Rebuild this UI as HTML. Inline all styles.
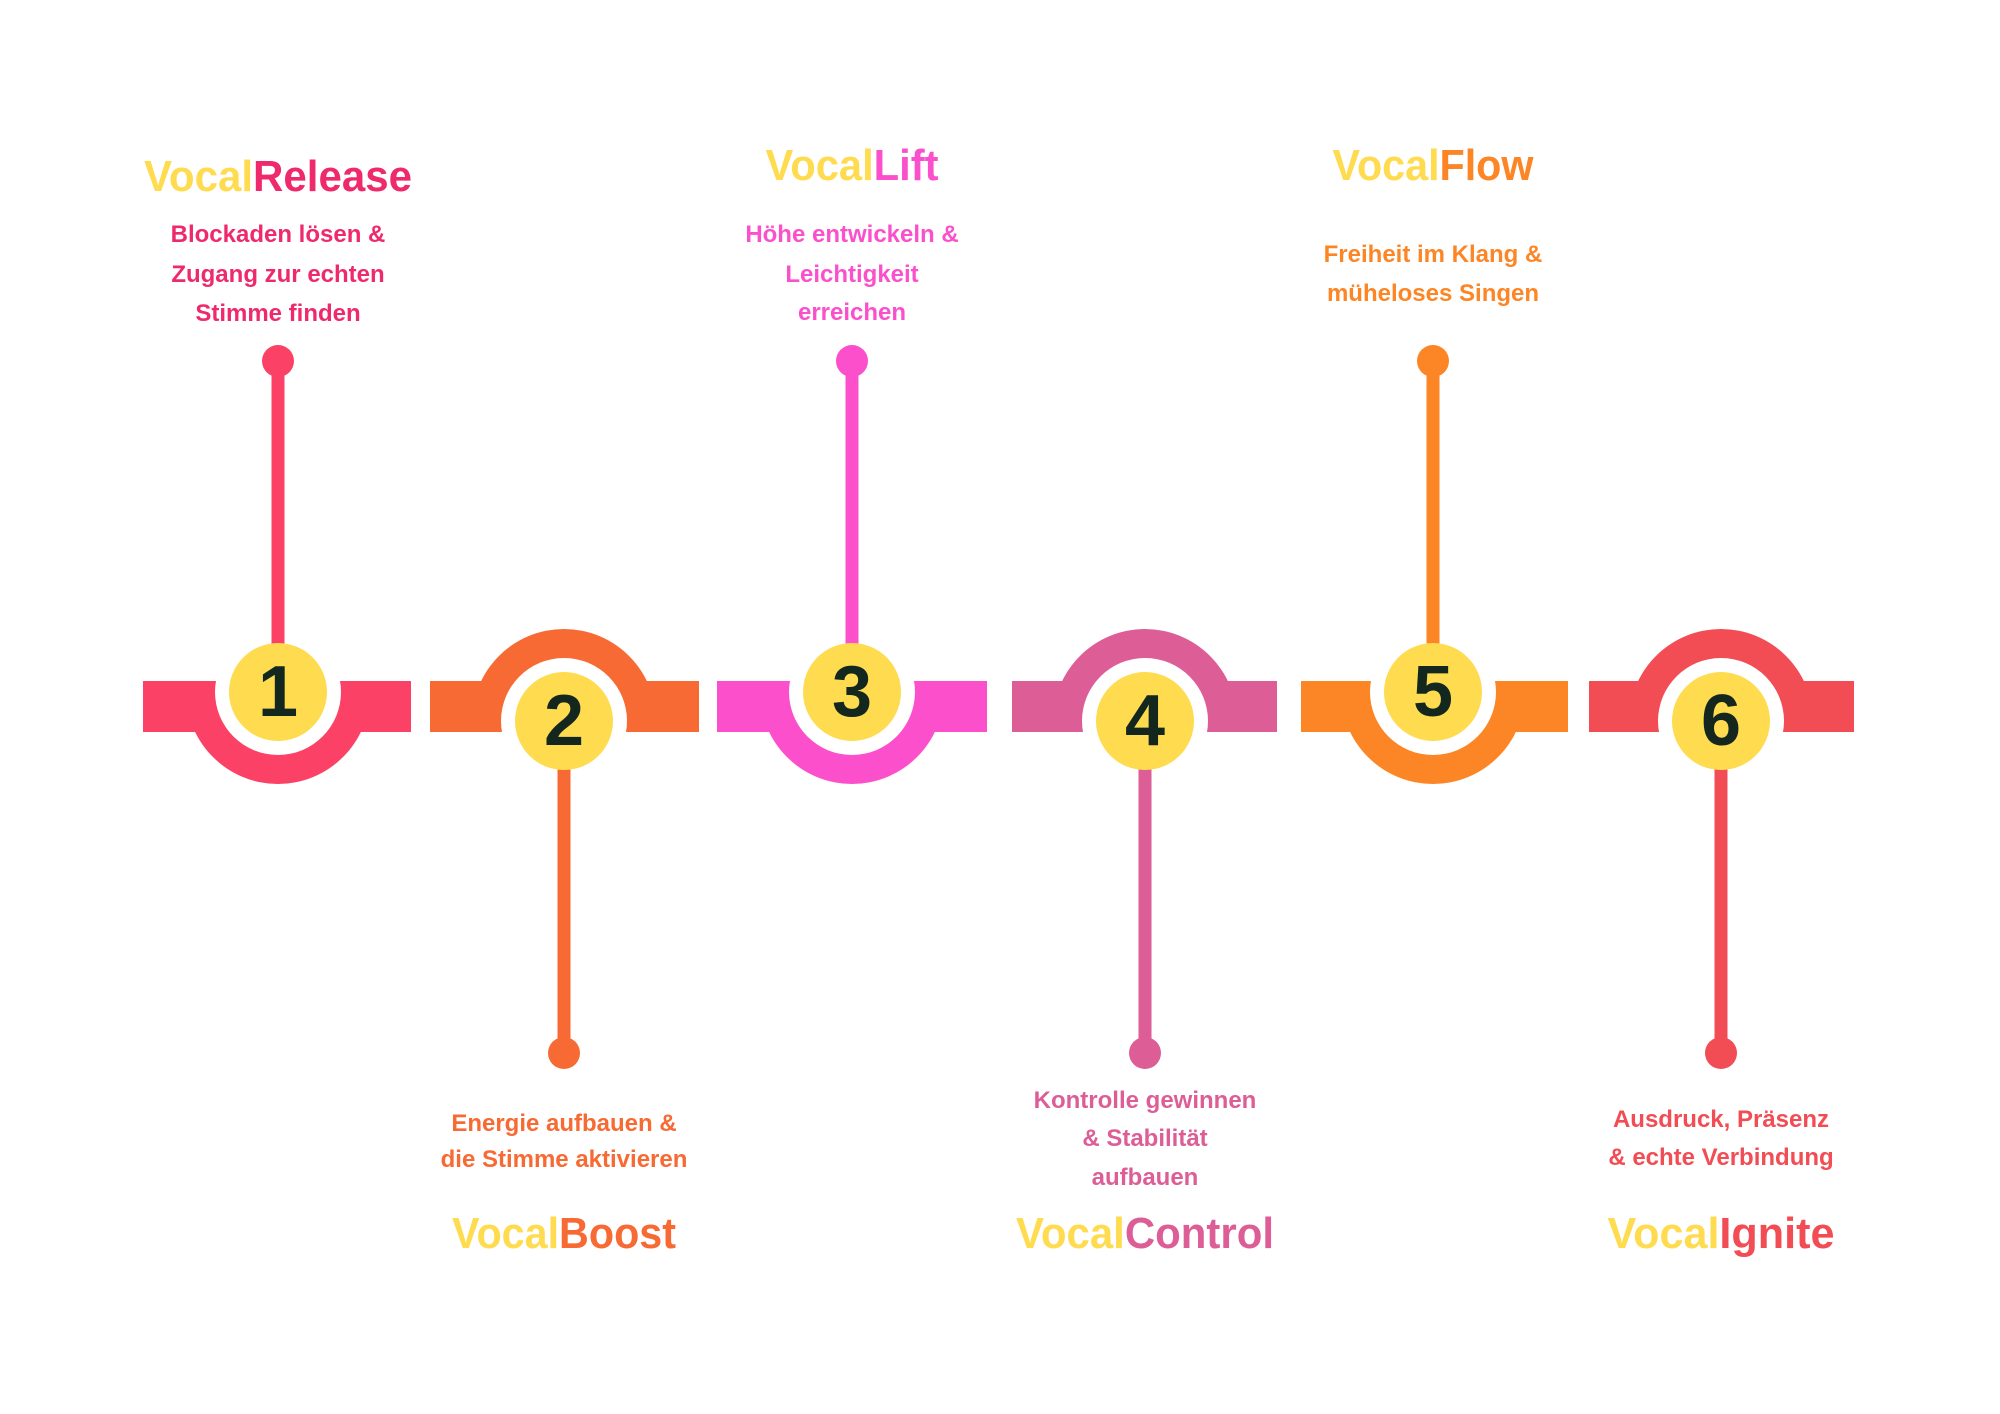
<!DOCTYPE html>
<html><head><meta charset="utf-8"><style>
html,body{margin:0;padding:0;background:#fff;}
svg{display:block;}
text{font-family:"Liberation Sans",sans-serif;font-weight:bold;text-anchor:middle;}
.n{font-size:72px;fill:#13271F;}
.t{font-size:44px;}
.d{font-size:24px;}
</style></head><body>
<svg width="2000" height="1414" viewBox="0 0 2000 1414" xmlns="http://www.w3.org/2000/svg">
<defs>
<clipPath id="below"><rect x="0" y="681" width="2000" height="800"/></clipPath>
<clipPath id="above"><rect x="0" y="0" width="2000" height="732"/></clipPath>
</defs>

<!-- 1 -->
<g>
<rect x="143" y="681" width="268" height="51" fill="#FB4266"/>
<circle cx="278" cy="692" r="92" fill="#FB4266" clip-path="url(#below)"/>
<circle cx="278" cy="692" r="63" fill="#fff"/>
<rect x="271.5" y="361" width="13" height="300" fill="#FB4266"/>
<circle cx="278" cy="361" r="16" fill="#FB4266"/>
<circle cx="278" cy="692" r="49" fill="#FFDB4F"/>
<text class="n" x="278" y="716">1</text>
<text class="t" x="278" y="191" textLength="268" lengthAdjust="spacingAndGlyphs"><tspan fill="#FFDB4F">Vocal</tspan><tspan fill="#EE2A6C">Release</tspan></text>
<text class="d" fill="#EE2A6C" x="278" y="242">Blockaden lösen &amp;</text>
<text class="d" fill="#EE2A6C" x="278" y="282">Zugang zur echten</text>
<text class="d" fill="#EE2A6C" x="278" y="321">Stimme finden</text>
</g>

<!-- 2 -->
<g>
<rect x="430" y="681" width="269" height="51" fill="#F86A33"/>
<circle cx="564" cy="721" r="92" fill="#F86A33" clip-path="url(#above)"/>
<circle cx="564" cy="721" r="63" fill="#fff"/>
<rect x="557.5" y="750" width="13" height="303" fill="#F86A33"/>
<circle cx="564" cy="1053" r="16" fill="#F86A33"/>
<circle cx="564" cy="721" r="49" fill="#FFDB4F"/>
<text class="n" x="564" y="745">2</text>
<text class="d" fill="#F86A33" x="564" y="1131">Energie aufbauen &amp;</text>
<text class="d" fill="#F86A33" x="564" y="1167">die Stimme aktivieren</text>
<text class="t" x="564" y="1248" textLength="224" lengthAdjust="spacingAndGlyphs"><tspan fill="#FFDB4F">Vocal</tspan><tspan fill="#F86A33">Boost</tspan></text>
</g>

<!-- 3 -->
<g>
<rect x="717" y="681" width="270" height="51" fill="#FB4FCB"/>
<circle cx="852" cy="692" r="92" fill="#FB4FCB" clip-path="url(#below)"/>
<circle cx="852" cy="692" r="63" fill="#fff"/>
<rect x="845.5" y="361" width="13" height="300" fill="#FB4FCB"/>
<circle cx="852" cy="361" r="16" fill="#FB4FCB"/>
<circle cx="852" cy="692" r="49" fill="#FFDB4F"/>
<text class="n" x="852" y="716">3</text>
<text class="t" x="852" y="180" textLength="173" lengthAdjust="spacingAndGlyphs"><tspan fill="#FFDB4F">Vocal</tspan><tspan fill="#FB4FCB">Lift</tspan></text>
<text class="d" fill="#FB4FCB" x="852" y="242">Höhe entwickeln &amp;</text>
<text class="d" fill="#FB4FCB" x="852" y="282">Leichtigkeit</text>
<text class="d" fill="#FB4FCB" x="852" y="320">erreichen</text>
</g>

<!-- 4 -->
<g>
<rect x="1012" y="681" width="265" height="51" fill="#DD5E97"/>
<circle cx="1145" cy="721" r="92" fill="#DD5E97" clip-path="url(#above)"/>
<circle cx="1145" cy="721" r="63" fill="#fff"/>
<rect x="1138.5" y="750" width="13" height="303" fill="#DD5E97"/>
<circle cx="1145" cy="1053" r="16" fill="#DD5E97"/>
<circle cx="1145" cy="721" r="49" fill="#FFDB4F"/>
<text class="n" x="1145" y="745">4</text>
<text class="d" fill="#DD5E97" x="1145" y="1108">Kontrolle gewinnen</text>
<text class="d" fill="#DD5E97" x="1145" y="1146">&amp; Stabilität</text>
<text class="d" fill="#DD5E97" x="1145" y="1185">aufbauen</text>
<text class="t" x="1145" y="1248" textLength="258" lengthAdjust="spacingAndGlyphs"><tspan fill="#FFDB4F">Vocal</tspan><tspan fill="#DD5E97">Control</tspan></text>
</g>

<!-- 5 -->
<g>
<rect x="1301" y="681" width="267" height="51" fill="#FC8626"/>
<circle cx="1433" cy="692" r="92" fill="#FC8626" clip-path="url(#below)"/>
<circle cx="1433" cy="692" r="63" fill="#fff"/>
<rect x="1426.5" y="361" width="13" height="300" fill="#FC8626"/>
<circle cx="1433" cy="361" r="16" fill="#FC8626"/>
<circle cx="1433" cy="692" r="49" fill="#FFDB4F"/>
<text class="n" x="1433" y="716">5</text>
<text class="t" x="1433" y="180" textLength="201" lengthAdjust="spacingAndGlyphs"><tspan fill="#FFDB4F">Vocal</tspan><tspan fill="#FC8626">Flow</tspan></text>
<text class="d" fill="#FC8626" x="1433" y="262">Freiheit im Klang &amp;</text>
<text class="d" fill="#FC8626" x="1433" y="301">müheloses Singen</text>
</g>

<!-- 6 -->
<g>
<rect x="1589" y="681" width="265" height="51" fill="#F24C54"/>
<circle cx="1721" cy="721" r="92" fill="#F24C54" clip-path="url(#above)"/>
<circle cx="1721" cy="721" r="63" fill="#fff"/>
<rect x="1714.5" y="750" width="13" height="303" fill="#F24C54"/>
<circle cx="1721" cy="1053" r="16" fill="#F24C54"/>
<circle cx="1721" cy="721" r="49" fill="#FFDB4F"/>
<text class="n" x="1721" y="745">6</text>
<text class="d" fill="#F24C54" x="1721" y="1127">Ausdruck, Präsenz</text>
<text class="d" fill="#F24C54" x="1721" y="1165">&amp; echte Verbindung</text>
<text class="t" x="1721" y="1248" textLength="227" lengthAdjust="spacingAndGlyphs"><tspan fill="#FFDB4F">Vocal</tspan><tspan fill="#F24C54">Ignite</tspan></text>
</g>
</svg>
</body></html>
